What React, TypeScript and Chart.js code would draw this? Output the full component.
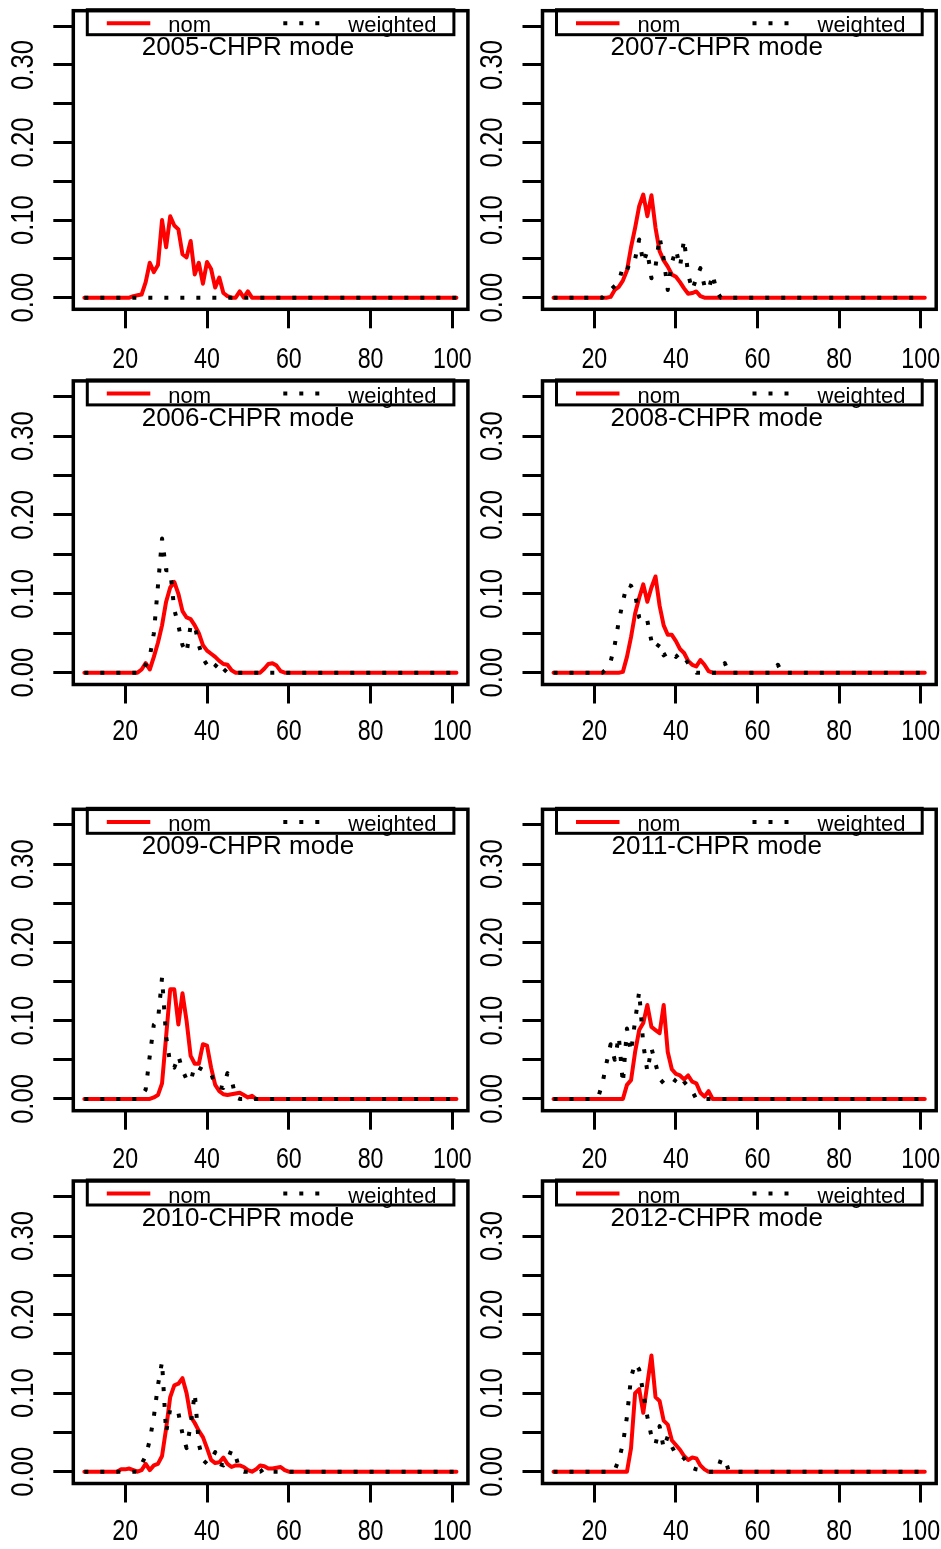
import React, { useEffect, useRef } from 'react';
import { Chart, registerables } from 'chart.js';

Chart.register(...registerables);

// ---------------- data ----------------
// Each series lists values for ages starting at AGE_FIRST; ages past the end of a list are 0.
const AGE_FIRST = 10;
const AGE_LAST = 101;

const X_TICKS = [20, 40, 60, 80, 100];
const Y_TICKS = [0, 0.05, 0.1, 0.15, 0.2, 0.25, 0.3, 0.35];
const Y_TICK_LABELS = ['0.00', '', '0.10', '', '0.20', '', '0.30', ''];

const LEGEND_LABELS = ['nom', 'weighted'];
const PANEL_YEARS = ['2005', '2007', '2006', '2008', '2009', '2011', '2010', '2012'];
const TITLE_SUFFIX = '-CHPR mode';
const TITLE_X = 50;
const TITLE_Y = 0.322;

const NOM_2005 = [0,0,0,0,0,0,0,0,0,0,0,0,
  0.002,0.003,0.004,0.02,0.045,0.033,0.042,0.1,0.065,0.105,0.093,0.088,0.056,0.052,0.073,0.03,0.045,0.018,0.046,0.037,0.013,0.026,0.006,0.002,0,0,0.008,0,0.008];
const WGT_2005 = [0];

const NOM_2007 = [0,0,0,0,0,0,0,0,0,0,0,0,0,0,
  0.001,0.01,0.014,0.022,0.035,0.065,0.09,0.118,0.133,0.105,0.132,0.09,0.06,0.048,0.04,0.03,0.027,0.02,0.012,0.005,0.006,0.008,0.002];
const WGT_2007 = [0,0,0,0,0,0,0.003,0,0,0,0,0,0,
  0.008,0.01,0.015,0.02,0.04,0.035,0.05,0.05,0.075,0.045,0.06,0.025,0.04,0.078,0.05,0.01,0.045,0.062,0.04,0.075,0.03,0.01,0.025,0.038,0.015,0.01,0.03,0.008];

const NOM_2006 = [0,0,0,0,0,0,0,0,0,0,0,0,0,0,
  0.004,0.012,0.004,0.02,0.038,0.06,0.09,0.108,0.115,0.1,0.078,0.07,0.068,0.06,0.05,0.035,0.028,0.024,0.02,0.015,0.011,0.01,0.003,
  0,0,0,0,0,0,0,0.005,0.011,0.012,0.009,0.002];
const WGT_2006 = [0,0,0,0,0,0,0,0,0,0,0,0,0,0,0,
  0.01,0.02,0.05,0.11,0.17,0.13,0.13,0.08,0.06,0.035,0.025,0.06,0.06,0.035,0.018,0.01,0.003,0.008,0.014,0.005];

const NOM_2008 = [0,0,0,0,0,0,0,0,0,0,0,0,0,0,0,0,0,
  0.001,0.02,0.045,0.075,0.095,0.112,0.09,0.108,0.122,0.085,0.06,0.048,0.048,0.04,0.03,0.025,0.015,0.01,0.008,0.016,0.01,0.002];
const WGT_2008 = [0,0,0,0,0,0,0,0,0,0,0,0,0,
  0.005,0.014,0.035,0.065,0.09,0.112,0.11,0.1,0.07,0.062,0.066,0.04,0.03,0.037,0.022,0.025,0.027,0.02,0.025,0.02,0.012,0.005,
  0,0,0,0,0,0,0.005,0.012,0,0,0,0,0,0,0,0,0,0,0,0,0.01];

const NOM_2009 = [0,0,0,0,0,0,0,0,0,0,0,0,0,0,0,0,0,
  0.002,0.005,0.02,0.08,0.14,0.14,0.095,0.135,0.1,0.055,0.045,0.045,0.07,0.068,0.04,0.018,0.01,0.006,0.005,0.006,0.007,0.008,0.005,0.002,0.004];
const WGT_2009 = [0,0,0,0,0,0,0,0,0,0,0,0,0,0,
  0.004,0.012,0.055,0.095,0.1,0.155,0.08,0.045,0.04,0.055,0.037,0.025,0.022,0.043,0.04,0.037,0.035,0.033,0.016,0.015,0.014,0.033,0.025,0.002];

const NOM_2011 = [0,0,0,0,0,0,0,0,0,0,0,0,0,0,0,0,0,0,
  0.018,0.024,0.06,0.088,0.097,0.12,0.092,0.088,0.084,0.12,0.06,0.038,0.032,0.03,0.025,0.03,0.022,0.02,0.008,0.003,0.01];
const WGT_2011 = [0,0,0,0,0,0,0,0,0,0,0,
  0.003,0.02,0.046,0.07,0.05,0.08,0.02,0.09,0.06,0.1,0.137,0.07,0.035,0.065,0.045,0.026,0.02,0.018,0.018,0.025,0.03,0.022,0.016,0.01];

const NOM_2010 = [0,0,0,0,0,0,0,0,0,
  0.003,0.003,0.004,0.002,0,0.002,0.01,0.002,0.008,0.01,
  0.02,0.055,0.095,0.11,0.112,0.119,0.1,0.07,0.062,0.052,
  0.044,0.03,0.015,0.011,0.012,0.018,0.01,0.006,0.008,0.008,
  0.006,0.002,0,0.003,0.008,0.007,0.004,0.004,0.005,0.006,0.002];
const WGT_2010 = [0,0,0,0,0,0,0,0,0,0,0,0,0,0,
  0.01,0.02,0.04,0.07,0.11,0.14,0.05,0.08,0.08,0.075,0.048,0.03,0.06,0.1,0.035,0.015,0.01,0.015,0.025,0.01,0.008,0.015,0.028,0.02,0.002,
  0,0,0,0,0,0.004];

const NOM_2012 = [0,0,0,0,0,0,0,0,0,0,0,0,0,0,0,0,0,0,0,
  0.03,0.1,0.105,0.075,0.112,0.148,0.095,0.09,0.065,0.06,0.04,0.034,0.028,0.02,0.015,0.018,0.017,0.008,0.003];
const WGT_2012 = [0,0,0,0,0,0,0,0,0,0,0,0,0,0,0,
  0.002,0.015,0.035,0.07,0.12,0.138,0.13,0.1,0.07,0.045,0.035,0.058,0.03,0.045,0.032,0.022,0.022,0.017,0.01,0.005,0.003,0.002,
  0,0,0,0,0.015,0.017];

const PANEL_NOM = [NOM_2005, NOM_2007, NOM_2006, NOM_2008, NOM_2009, NOM_2011, NOM_2010, NOM_2012];
const PANEL_WGT = [WGT_2005, WGT_2007, WGT_2006, WGT_2008, WGT_2009, WGT_2011, WGT_2010, WGT_2012];

// ---------------- style / layout ----------------
const X_MIN = 7.3;
const X_MAX = 103.8;
const Y_MIN = -0.015;
const Y_MAX = 0.37;

const NOM_COLOR = '#ff0000';
const WGT_COLOR = '#000000';
const WGT_DASH = [4, 12];
const TEXT_FONT = "'Liberation Sans', Arial, sans-serif";
const X_TICK_SIZE = 29;
const Y_TICK_SIZE = 32;
const TICK_SQUEEZE = 0.8; // tick labels are drawn horizontally condensed
const Y_LABEL_OFFSET = 49;
const HX = 72;

const COL_GEOM = [
  { canvasLeft: 0, canvasWidth: 480, areaLeft: 73.3, areaRight: 467.9 },
  { canvasLeft: 470, canvasWidth: 471, areaLeft: 542.5, areaRight: 936.2 },
];
const ROW_GEOM = [
  { areaTop: 10.7, areaBottom: 309.3, labelOffset: 50.5 },
  { areaTop: 380.9, areaBottom: 684.5, labelOffset: 47.5 },
  { areaTop: 809.3, areaBottom: 1110.7, labelOffset: 49.3 },
  { areaTop: 1181, areaBottom: 1483.5, labelOffset: 48.2 },
];

function toPoints(vals: number[]) {
  const pts: { x: number; y: number }[] = [];
  for (let a = AGE_FIRST; a <= AGE_LAST; a++) {
    const v = vals[a - AGE_FIRST];
    pts.push({ x: a, y: v === undefined ? 0 : v });
  }
  return pts;
}

const decorPlugin = {
  id: 'decor',
  afterDraw(chart: any) {
    const o = chart.options.plugins.decor;
    const { ctx, chartArea: a } = chart;
    const xs = chart.scales.x;
    const ys = chart.scales.y;
    ctx.save();
    ctx.setLineDash([]);

    // tick labels from the scales' own ticks, horizontally condensed
    ctx.fillStyle = '#000';
    ctx.textAlign = 'center';
    ctx.textBaseline = 'middle';
    ctx.font = `${X_TICK_SIZE}px ${TEXT_FONT}`;
    xs.ticks.forEach((t: any) => {
      if (!t.label) return;
      ctx.save();
      ctx.translate(xs.getPixelForValue(t.value), a.bottom + o.xLabelOffset);
      ctx.scale(TICK_SQUEEZE, 1);
      ctx.fillText(String(t.label), 0, 0);
      ctx.restore();
    });
    ctx.font = `${Y_TICK_SIZE}px ${TEXT_FONT}`;
    ys.ticks.forEach((t: any) => {
      if (!t.label) return;
      ctx.save();
      ctx.translate(a.left - Y_LABEL_OFFSET, ys.getPixelForValue(t.value));
      ctx.rotate(-Math.PI / 2);
      ctx.scale(TICK_SQUEEZE, 1);
      ctx.fillText(String(t.label), 0, 0);
      ctx.restore();
    });

    // plot frame
    ctx.strokeStyle = '#000';
    ctx.lineWidth = 3.5;
    ctx.strokeRect(a.left, a.top, a.right - a.left, a.bottom - a.top);

    // legend
    const bl = a.left + 14;
    const br = a.right - 14;
    const bt = a.top - 1;
    const bb = a.top + 24;
    ctx.lineWidth = 3;
    ctx.strokeRect(bl, bt, br - bl, bb - bt);
    const ly = bt + 13.6;
    ctx.lineWidth = 4;
    ctx.lineCap = 'butt';
    ctx.strokeStyle = NOM_COLOR;
    ctx.beginPath();
    ctx.moveTo(bl + 19.5, ly);
    ctx.lineTo(bl + 63, ly);
    ctx.stroke();
    ctx.strokeStyle = WGT_COLOR;
    ctx.setLineDash(WGT_DASH);
    ctx.beginPath();
    ctx.moveTo(bl + 196, ly);
    ctx.lineTo(bl + 240, ly);
    ctx.stroke();
    ctx.setLineDash([]);
    ctx.fillStyle = '#000';
    ctx.font = `22px ${TEXT_FONT}`;
    ctx.textAlign = 'left';
    ctx.textBaseline = 'alphabetic';
    ctx.fillText(LEGEND_LABELS[0], bl + 81, bt + 22.6);
    ctx.fillText(LEGEND_LABELS[1], bl + 261, bt + 22.6);

    // panel title
    ctx.font = `26px ${TEXT_FONT}`;
    ctx.textAlign = 'center';
    ctx.textBaseline = 'middle';
    ctx.fillText(o.title, xs.getPixelForValue(TITLE_X), ys.getPixelForValue(TITLE_Y));
    ctx.restore();
  },
};

function Panel({ index }: { index: number }) {
  const ref = useRef<HTMLCanvasElement>(null);
  const col = COL_GEOM[index % 2];
  const row = ROW_GEOM[Math.floor(index / 2)];
  const canvasTop = Math.floor(row.areaTop) - 10;
  const padTop = row.areaTop - canvasTop;
  const plotH = row.areaBottom - row.areaTop;
  const canvasH = Math.ceil(padTop + plotH + HX);
  const padBottom = canvasH - padTop - plotH - HX;
  const yAxisWidth = col.areaLeft - col.canvasLeft;
  const padRight = col.canvasLeft + col.canvasWidth - col.areaRight;

  useEffect(() => {
    const chart = new Chart(ref.current!, {
      type: 'line',
      data: {
        datasets: [
          {
            label: LEGEND_LABELS[0],
            data: toPoints(PANEL_NOM[index]),
            borderColor: NOM_COLOR,
            borderWidth: 4,
            pointRadius: 0,
            tension: 0,
            fill: false,
            order: 2,
            borderJoinStyle: 'round',
            borderCapStyle: 'round',
          },
          {
            label: LEGEND_LABELS[1],
            data: toPoints(PANEL_WGT[index]),
            borderColor: WGT_COLOR,
            borderWidth: 4,
            borderDash: WGT_DASH,
            borderCapStyle: 'butt',
            borderJoinStyle: 'round',
            pointRadius: 0,
            tension: 0,
            fill: false,
            order: 1,
          },
        ],
      } as any,
      options: {
        responsive: false,
        maintainAspectRatio: false,
        animation: false,
        devicePixelRatio: 1,
        events: [],
        layout: { padding: { left: 0, right: padRight, top: padTop, bottom: padBottom } },
        plugins: {
          legend: { display: false },
          title: { display: false },
          tooltip: { enabled: false },
          decor: {
            title: PANEL_YEARS[index] + TITLE_SUFFIX,
            xLabelOffset: row.labelOffset,
          },
        } as any,
        scales: {
          x: {
            type: 'linear',
            min: X_MIN,
            max: X_MAX,
            bounds: 'data',
            afterBuildTicks: (s: any) => {
              s.ticks = X_TICKS.map((v) => ({ value: v }));
            },
            afterFit: (s: any) => {
              s.height = HX;
              s.paddingLeft = 0;
              s.paddingRight = 0;
              s.paddingTop = 0;
              s.paddingBottom = 0;
            },
            grid: { drawOnChartArea: false, drawTicks: true, tickLength: 19, lineWidth: 3, color: '#000' },
            border: { display: false },
            ticks: {
              display: false,
              autoSkip: false,
              minRotation: 0,
              maxRotation: 0,
              callback: (v: any) => String(v),
            },
          },
          y: {
            type: 'linear',
            min: Y_MIN,
            max: Y_MAX,
            bounds: 'data',
            afterBuildTicks: (s: any) => {
              s.ticks = Y_TICKS.map((v) => ({ value: v }));
            },
            afterFit: (s: any) => {
              s.width = yAxisWidth;
              s.paddingLeft = 0;
              s.paddingRight = 0;
              s.paddingTop = 0;
              s.paddingBottom = 0;
            },
            grid: { drawOnChartArea: false, drawTicks: true, tickLength: 20, lineWidth: 3, color: '#000' },
            border: { display: false },
            ticks: {
              display: false,
              autoSkip: false,
              callback: (_v: any, i: number) => Y_TICK_LABELS[i],
            },
          },
        } as any,
      },
      plugins: [decorPlugin as any],
    });
    return () => chart.destroy();
  }, [index]);

  return (
    <canvas
      ref={ref}
      width={col.canvasWidth}
      height={canvasH}
      style={{
        position: 'absolute',
        left: col.canvasLeft,
        top: canvasTop,
        width: col.canvasWidth,
        height: canvasH,
      }}
    />
  );
}

export default function App() {
  return (
    <div
      style={{
        position: 'absolute',
        left: 0,
        top: 0,
        width: 941,
        height: 1549,
        background: '#fff',
        overflow: 'hidden',
      }}
    >
      {PANEL_YEARS.map((_, i) => (
        <Panel key={i} index={i} />
      ))}
    </div>
  );
}
